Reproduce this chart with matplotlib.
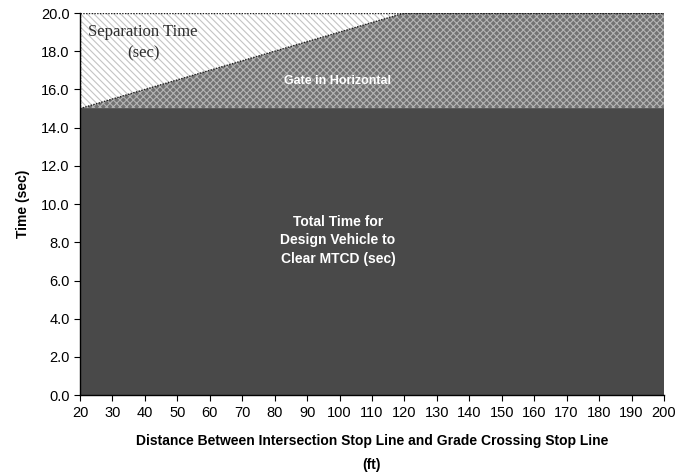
import matplotlib
matplotlib.use("Agg")
import matplotlib.pyplot as plt
import numpy as np

# Data
distance_ft = [20, 120, 200]
total_clear_time = [15.0, 15.0, 15.0]
gate_horizontal_top = [15.0, 20.0, 20.0]
time_max = 20.0

xticks = list(range(20, 201, 10))
yticks = [0, 2, 4, 6, 8, 10, 12, 14, 16, 18, 20]

plt.rcParams['font.family'] = ['Liberation Sans', 'DejaVu Sans']
plt.rcParams['hatch.linewidth'] = 0.8

fig = plt.figure(figsize=(6.8, 4.75), dpi=100)
ax = fig.add_axes([0.1176, 0.168, 0.8588, 0.8046])

x = np.array(distance_ft, dtype=float)
base = np.zeros_like(x)
tot = np.array(total_clear_time)
gate = np.array(gate_horizontal_top)
top = np.full_like(x, time_max)

# separation time region (light diagonal hatch)
ax.fill_between(x, gate, top, facecolor='white', edgecolor='#c4c4c4',
                hatch='\\\\\\\\\\', linewidth=0)
# gate in horizontal (crosshatch)
ax.fill_between(x, tot, gate, facecolor='#727272', edgecolor='#b4b4b4',
                hatch='xxxxx', linewidth=0)
# total time (dark)
ax.fill_between(x, base, tot, facecolor='#494949', edgecolor='none', linewidth=0)
ax.plot([x[0], x[-1]], [tot[0], tot[-1]], color='#494949', linewidth=1.2)

# dotted borders
ax.plot(x, gate, color='#202020', linestyle=(0, (1, 1)), linewidth=1.0)
ax.plot([x[0], x[-1]], [time_max, time_max], color='#202020', linestyle=(0, (1, 1)), linewidth=1.0)
ax.plot([x[0], x[0]], [tot[0], time_max], color='#202020', linestyle=(0, (1, 1)), linewidth=1.0)

ax.set_xlim(20, 200)
ax.set_ylim(0, 20)
ax.set_xticks(xticks)
ax.set_yticks(yticks)
ax.set_yticklabels([f"{v:.1f}" for v in yticks])
ax.tick_params(axis='both', labelsize=10.5, direction='out', length=4, colors='black')
ax.tick_params(axis='x', pad=4)

for s in ['top', 'right']:
    ax.spines[s].set_visible(False)
ax.spines['left'].set_linewidth(1.0)
ax.spines['bottom'].set_linewidth(1.0)

ax.text(39.5, 18.45, "Separation Time\n(sec)", ha='center', va='center',
        fontsize=12, family=['Liberation Serif'], color='#303030', linespacing=1.4)
ax.text(99.5, 16.45, "Gate in Horizontal", ha='center', va='center',
        fontsize=9, fontweight='bold', color='white')
ax.text(99.5, 8.1, "Total Time for\nDesign Vehicle to\nClear MTCD (sec)", ha='center', va='center',
        fontsize=10, fontweight='bold', color='white', linespacing=1.4)

ax.set_xlabel("Distance Between Intersection Stop Line and Grade Crossing Stop Line\n(ft)",
              fontsize=10, fontweight='bold', labelpad=10, linespacing=1.85)
ax.set_ylabel("Time (sec)", fontsize=10, fontweight='bold', labelpad=8)

fig.savefig("out.png", dpi=100)
